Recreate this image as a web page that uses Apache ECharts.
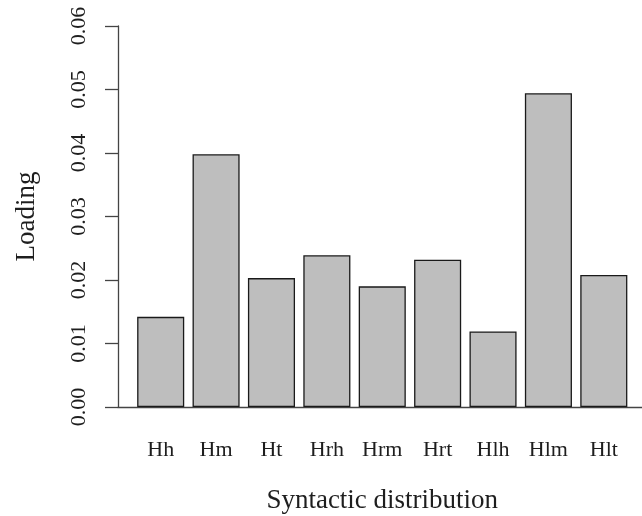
<!DOCTYPE html>
<html>
<head>
<meta charset="utf-8">
<script src="https://cdn.jsdelivr.net/npm/echarts@6/dist/echarts.min.js"></script>
<style>
  html, body { margin: 0; padding: 0; background: #fff; }
  #chart { width: 642px; height: 516px; }
</style>
</head>
<body>
<div id="chart"></div>
<script>
// Loadings per syntactic distribution category
const categories = ['Hh', 'Hm', 'Ht', 'Hrh', 'Hrm', 'Hrt', 'Hlh', 'Hlm', 'Hlt'];
const loadings = [0.0142, 0.0398, 0.0203, 0.0239, 0.0190, 0.0232, 0.0119, 0.0494, 0.0208];
const yTicks = { min: 0, max: 0.06, interval: 0.01 };

const serif = '"Liberation Serif", "Times New Roman", serif';
const ink = '#1e1e1e';

const chart = echarts.init(document.getElementById('chart'), null, { renderer: 'canvas' });

chart.setOption({
  animation: false,
  backgroundColor: '#fff',
  grid: [
    // bar area
    { left: 133, right: 10.5, top: 26, bottom: 109, containLabel: false, outerBoundsMode: 'none' },
    // wider area that carries the zero baseline to the right edge
    { left: 118, right: 0, top: 26, bottom: 109, containLabel: false, outerBoundsMode: 'none' }
  ],
  xAxis: [
    {
      type: 'category',
      gridIndex: 0,
      data: categories,
      axisLine: { show: false },
      axisTick: { show: false },
      axisLabel: {
        color: ink,
        fontFamily: serif,
        fontSize: 22,
        margin: 32
      },
      name: 'Syntactic distribution',
      nameLocation: 'middle',
      nameGap: 80,
      nameTextStyle: { color: ink, fontFamily: serif, fontSize: 27 }
    },
    {
      type: 'value',
      gridIndex: 1,
      min: 0,
      max: 1,
      axisLine: { show: true, lineStyle: { color: '#444', width: 1.3 } },
      axisTick: { show: false },
      axisLabel: { show: false },
      splitLine: { show: false }
    }
  ],
  yAxis: [
    {
      type: 'value',
      gridIndex: 0,
      min: yTicks.min,
      max: yTicks.max,
      interval: yTicks.interval,
      offset: 15,
      axisLine: { show: true, lineStyle: { color: '#444', width: 1.3 } },
      axisTick: { show: true, length: 13, lineStyle: { color: '#444', width: 1.3 } },
      splitLine: { show: false },
      axisLabel: {
        color: ink,
        fontFamily: serif,
        fontSize: 22,
        rotate: 90,
        margin: 28,
        formatter: v => v.toFixed(2)
      },
      name: 'Loading',
      nameLocation: 'middle',
      nameGap: 78,
      nameRotate: 90,
      nameTextStyle: { color: ink, fontFamily: serif, fontSize: 27 }
    },
    {
      type: 'value',
      gridIndex: 1,
      show: false,
      min: 0,
      max: 1
    }
  ],
  series: [
    {
      type: 'bar',
      xAxisIndex: 0,
      yAxisIndex: 0,
      data: loadings,
      barCategoryGap: '15%',
      itemStyle: { color: '#bebebe', borderColor: '#1a1a1a', borderWidth: 1.3 }
    }
  ]
});
</script>
</body>
</html>
